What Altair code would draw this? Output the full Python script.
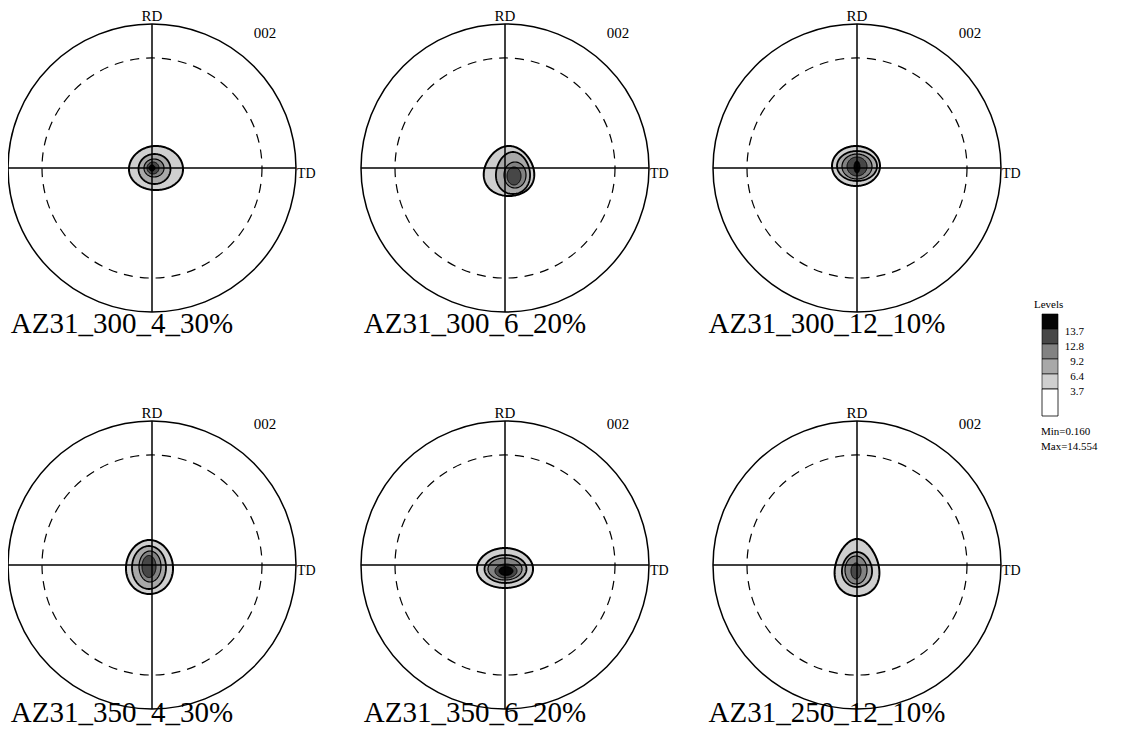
import altair as alt
import numpy as np
import pandas as pd

# ---------------- data ----------------
panel_names = ["AZ31_300_4_30%", "AZ31_300_6_20%", "AZ31_300_12_10%",
               "AZ31_350_4_30%", "AZ31_350_6_20%", "AZ31_250_12_10%"]
panel_col = [0, 1, 2, 0, 1, 2]
panel_row = [0, 0, 0, 1, 1, 1]
pole_label = "002"
axis_top = "RD"
axis_right = "TD"

level_values = [3.7, 6.4, 9.2, 12.8, 13.7]
level_min = "Min=0.160"
level_max = "Max=14.554"

# contour ellipses per panel (offset from pole centre, half-widths, egg factor), level 1..n
c_dx = [[4, 2.5, 2, 1, 0], [4, 8, 10, 9], [-1, 0, 0, 0, 0],
        [-2.5, -3, -2, -3], [0, 0.5, 0, 1, 1], [0, 0, -1, -1]]
c_dy = [[0, 1, 0, 0, 0], [3, 5, 7, 8], [-2, -2, -1.5, -1.5, -1],
        [2, 2.5, 1.5, 1.5], [3, 4, 4, 6, 6], [2.5, 4.5, 5, 6]]
c_rx = [[27, 16, 10, 6, 3], [25, 17, 11, 7], [24, 20, 15, 10, 3],
        [23.5, 17, 11, 7], [28, 21, 17, 11, 7], [22, 15, 11, 5]]
c_ry = [[22, 15, 9, 6, 3], [25, 21, 13, 9], [20, 15, 12.5, 9.5, 6],
        [27, 21.5, 15.5, 11], [20, 14, 11, 7, 4.5], [28.5, 17.5, 14, 8]]
c_k = [[0.05, 0, 0, 0, 0], [0.15, 0.1, 0, 0], [0, 0, 0, 0, 0],
       [0.05, 0, 0, 0], [0.05, 0, 0, 0, 0], [0.2, 0.1, 0, 0]]

# ---------------- layout / style ----------------
col_centers = [152, 505, 857]
row_centers = [168, 565]
R_OUT = 144
R_DASH = 110
level_fill = ["#cfcfcf", "#a8a8a8", "#828282", "#474747", "#050505"]
level_sw = [2.0, 1.8, 1.2, 1.0, 1.0]
FONT = "Liberation Serif"

xs = alt.Scale(domain=[8, 1116], nice=False, zero=False)
ys = alt.Scale(domain=[8, 729], nice=False, zero=False, reverse=True)

# panel table
pan = pd.DataFrame({
    "name": panel_names,
    "cx": [col_centers[c] for c in panel_col],
    "cy": [row_centers[r] for r in panel_row],
    "row": panel_row,
})
pan["top"] = pan.cy - R_OUT
pan["bot"] = pan.cy + R_OUT
pan["left"] = pan.cx - R_OUT
pan["right"] = pan.cx + R_OUT
pan["rd_y"] = pan.cy - R_OUT - 8
pan["td_x"] = pan.cx + R_OUT + 1
pan["td_y"] = pan.cy + 6
pan["p_x"] = pan.cx + 113
pan["p_y"] = pan.cy - 135 - 6 * pan.row
pan["lab_x"] = pan.cx - 30
pan["lab_y"] = pan.cy + 165 - 8 * pan.row
pan["rd"] = axis_top
pan["td"] = axis_right
pan["pole"] = pole_label

# contour shapes
rows = []
for p, name in enumerate(panel_names):
    cx = col_centers[panel_col[p]]
    cy = row_centers[panel_row[p]]
    for L in range(len(c_rx[p])):
        ex = cx + c_dx[p][L]
        ey = cy + c_dy[p][L]
        for t in np.linspace(0, np.pi, 73):
            u = -np.cos(t)
            h = c_rx[p][L] * np.sin(t) * (1 + c_k[p][L] * u)
            rows.append({"panel": name, "lev": int(L), "yy": float(ey + c_ry[p][L] * u),
                         "xl": float(ex - h), "xr": float(ex + h)})
cont = pd.DataFrame(rows)

base = alt.Chart(pan)

outer = base.mark_point(shape="circle", filled=False, size=4 * R_OUT ** 2,
                        stroke="black", strokeWidth=1.5, opacity=1).encode(
    x=alt.X("cx:Q", scale=xs, axis=None), y=alt.Y("cy:Q", scale=ys, axis=None))
dashed = base.mark_point(shape="circle", filled=False, size=4 * R_DASH ** 2,
                         stroke="black", strokeWidth=1.2, opacity=1,
                         strokeDash=[9, 7]).encode(
    x=alt.X("cx:Q", scale=xs, axis=None), y=alt.Y("cy:Q", scale=ys, axis=None))

vline = base.mark_rule(color="black", strokeWidth=1.5).encode(
    x=alt.X("cx:Q", scale=xs, axis=None), y=alt.Y("top:Q", scale=ys, axis=None), y2="bot:Q")
hline = base.mark_rule(color="black", strokeWidth=1.5).encode(
    x=alt.X("left:Q", scale=xs, axis=None), x2="right:Q", y=alt.Y("cy:Q", scale=ys, axis=None))

contour_layers = []
for L in range(len(level_values)):
    sub = cont[cont.lev == L].reset_index(drop=True)
    contour_layers.append(
        alt.Chart(sub).mark_area(
            orient="horizontal", strokeWidth=level_sw[L], opacity=1,
            fill=level_fill[L], stroke="black", fillOpacity=1).encode(
            y=alt.Y("yy:Q", scale=ys, axis=None),
            x=alt.X("xl:Q", scale=xs, axis=None, stack=None), x2="xr:Q",
            detail="panel:N"))

rd_text = base.mark_text(font=FONT, fontSize=15, align="center", baseline="middle").encode(
    x=alt.X("cx:Q", scale=xs, axis=None), y=alt.Y("rd_y:Q", scale=ys, axis=None), text="rd:N")
td_text = base.mark_text(font=FONT, fontSize=14, align="left", baseline="middle").encode(
    x=alt.X("td_x:Q", scale=xs, axis=None), y=alt.Y("td_y:Q", scale=ys, axis=None), text="td:N")
pole_text = base.mark_text(font=FONT, fontSize=15, align="center", baseline="middle").encode(
    x=alt.X("p_x:Q", scale=xs, axis=None), y=alt.Y("p_y:Q", scale=ys, axis=None), text="pole:N")
lab_text = base.mark_text(font=FONT, fontSize=29, align="center", baseline="alphabetic").encode(
    x=alt.X("lab_x:Q", scale=xs, axis=None), y=alt.Y("lab_y:Q", scale=ys, axis=None), text="name:N")

# legend (custom)
LG_X0, LG_X1 = 1042, 1058
LG_TOP, BAND_H = 314, 15
n = len(level_values)
leg = pd.DataFrame({
    "y0": [LG_TOP + i * BAND_H for i in range(n)],
    "y1": [LG_TOP + (i + 1) * BAND_H for i in range(n)],
    "fill": level_fill[::-1],
    "lab": [f"{v:g}" for v in level_values[::-1]],
})
leg["x0"] = LG_X0
leg["x1"] = LG_X1
leg["lx"] = 1084
leg["ly"] = leg.y1 + 3
white = pd.DataFrame({"x0": [LG_X0], "x1": [LG_X1], "y0": [LG_TOP + n * BAND_H],
                      "y1": [LG_TOP + n * BAND_H + 27]})
leg_rect = alt.Chart(leg).mark_rect(stroke="black", strokeWidth=0.6).encode(
    x=alt.X("x0:Q", scale=xs, axis=None), x2="x1:Q",
    y=alt.Y("y0:Q", scale=ys, axis=None), y2="y1:Q",
    fill=alt.Fill("fill:N", scale=None))
leg_white = alt.Chart(white).mark_rect(fill="white", stroke="black", strokeWidth=0.8).encode(
    x=alt.X("x0:Q", scale=xs, axis=None), x2="x1:Q",
    y=alt.Y("y0:Q", scale=ys, axis=None), y2="y1:Q")
leg_lab = alt.Chart(leg).mark_text(font=FONT, fontSize=11, align="right", baseline="middle").encode(
    x=alt.X("lx:Q", scale=xs, axis=None), y=alt.Y("ly:Q", scale=ys, axis=None), text="lab:N")
leg_other = pd.DataFrame({"t": ["Levels", level_min, level_max],
                          "x": [1034, 1041, 1041], "y": [305, 432, 447]})
leg_txt = alt.Chart(leg_other).mark_text(font=FONT, fontSize=11, align="left", baseline="middle").encode(
    x=alt.X("x:Q", scale=xs, axis=None), y=alt.Y("y:Q", scale=ys, axis=None), text="t:N")

chart = alt.layer(
    *contour_layers, vline, hline, outer, dashed,
    rd_text, td_text, pole_text, lab_text,
    leg_rect, leg_white, leg_lab, leg_txt,
).properties(width=1108, height=721, padding=0, autosize="none").configure_view(stroke=None)

chart.save("out.html", embed_options={"renderer": "svg", "actions": False})
